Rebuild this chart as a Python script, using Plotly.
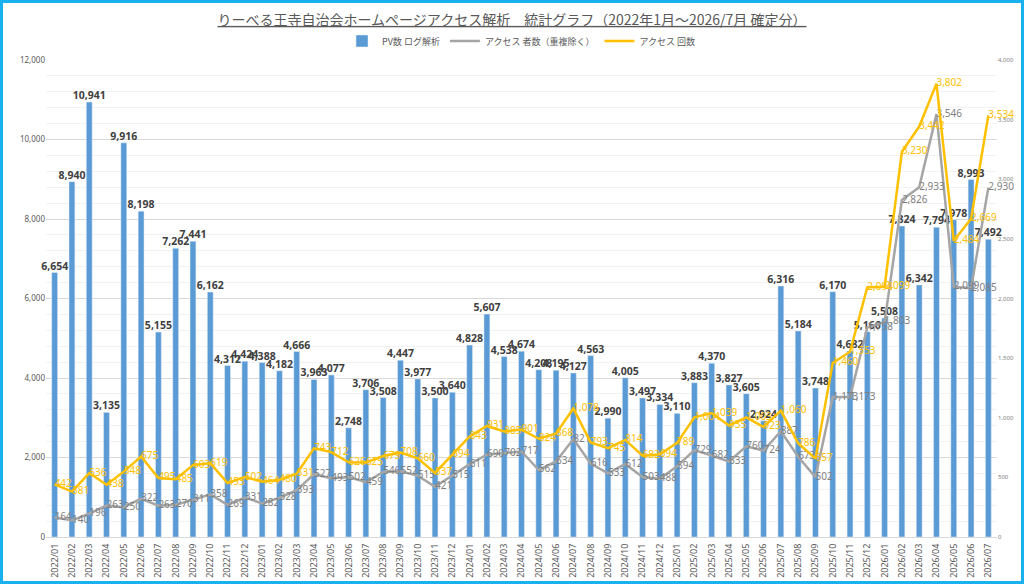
import plotly.graph_objects as go

months = [f"{y}/{m:02d}" for y in range(2022, 2027) for m in range(1, 13)][:55]

pv = [6654, 8940, 10941, 3135, 9916, 8198, 5155, 7262, 7441, 6162, 4312, 4424,
      4388, 4182, 4666, 3963, 4077, 2748, 3706, 3508, 4447, 3977, 3500, 3640,
      4828, 5607, 4538, 4674, 4208, 4195, 4127, 4563, 2990, 4005, 3497, 3334,
      3110, 3883, 4370, 3827, 3605, 2924, 6316, 5184, 3748, 6170, 4682, 5166,
      5508, 7824, 6342, 7794, 7978, 8993, 7492]

visitors = [164, 140, 196, 263, 250, 322, 263, 270, 311, 358, 269, 331,
            282, 328, 393, 527, 493, 502, 459, 546, 552, 515, 421, 515,
            611, 690, 702, 717, 562, 634, 821, 616, 533, 612, 503, 488,
            594, 729, 682, 633, 760, 724, 887, 673, 502, 1173, 1173, 1758,
            1803, 2826, 2933, 3546, 2099, 2085, 2930]

visits = [442, 381, 536, 438, 548, 675, 495, 485, 603, 619, 453, 502,
          464, 480, 531, 743, 712, 626, 625, 679, 708, 660, 537, 694,
          843, 931, 885, 901, 824, 868, 1078, 793, 745, 814, 682, 694,
          789, 1004, 1039, 935, 1003, 923, 1060, 786, 657, 1460, 1553, 2094,
          2099, 3230, 3442, 3802, 2484, 2669, 3534]

title_text = "りーべる王寺自治会ホームページアクセス解析　統計グラフ（2022年1月～2026/7月 確定分）"
names = ["PV数 ログ解析", "アクセス 者数（重複除く）", "アクセス 回数"]

W, H = 1024, 584
ML, MR, MT, MB = 46, 27, 60, 47
PW, PH = W - ML - MR, H - MT - MB

FONT = "Noto Sans CJK JP"

fig = go.Figure()
fig.add_trace(go.Bar(
    x=months, y=pv, name=names[0], marker_color="#5b9bd5",
    texttemplate="%{y:,}", textposition="outside", constraintext="none",
    textfont=dict(family="Noto Sans", size=10.5, color="#404040", weight="bold"),
    cliponaxis=False, yaxis="y"))
fig.add_trace(go.Scatter(
    x=months, y=visitors, name=names[1], mode="lines+text",
    line=dict(color="#a5a5a5", width=2.5),
    texttemplate="%{y:,}", textposition="middle right",
    textfont=dict(family="Noto Sans", size=10, color="#7f7f7f"),
    cliponaxis=False, yaxis="y2"))
fig.add_trace(go.Scatter(
    x=months, y=visits, name=names[2], mode="lines+text",
    line=dict(color="#ffc000", width=2.5),
    texttemplate="%{y:,}", textposition="middle right",
    textfont=dict(family="Noto Sans", size=10, color="#ffc000"),
    cliponaxis=False, yaxis="y2"))

fig.update_layout(
    width=W, height=H,
    margin=dict(l=ML, r=MR, t=MT, b=MB, autoexpand=False),
    paper_bgcolor="white", plot_bgcolor="white",
    font=dict(family=FONT, color="#595959"),
    bargap=0.66,
    title=dict(text="<u>" + title_text + "</u>", x=0.5, xanchor="center",
               y=1 - 20 / H, yanchor="middle",
               font=dict(family=FONT, size=14, color="#595959")),
    legend=dict(orientation="h", x=0.5, xanchor="center",
                y=1 + 19 / PH, yanchor="middle", itemwidth=30,
                font=dict(family=FONT, size=9, color="#595959"),
                bgcolor="rgba(0,0,0,0)"),
    showlegend=True,
    xaxis=dict(type="category", range=[-0.5, len(months) - 0.5],
               tickangle=-90, automargin=False,
               tickfont=dict(family="Noto Sans", size=9, color="#595959"),
               showgrid=False, showline=True, linecolor="#d9d9d9",
               ticks="", ticklabelstandoff=2),
    yaxis=dict(range=[0, 12000], dtick=2000, tickformat=",", automargin=False,
               tickfont=dict(family="Noto Sans", size=8, color="#595959"),
               showgrid=True, gridcolor="#d9d9d9", gridwidth=1,
               minor=dict(dtick=400, showgrid=True, gridcolor="#f2f2f2"),
               zeroline=False, showline=False, ticks=""),
    yaxis2=dict(range=[0, 4000], dtick=500, tickformat=",", automargin=False,
                overlaying="y", side="right",
                tickfont=dict(family="Noto Sans", size=6, color="#808080"),
                showgrid=False, zeroline=False, showline=False, ticks=""),
    shapes=[dict(type="rect", xref="paper", yref="paper",
                 x0=-(ML - 1.5) / PW, x1=1 + (MR - 1.5) / PW,
                 y0=-(MB - 1.5) / PH, y1=1 + (MT - 1.5) / PH,
                 line=dict(color="#1ab2ee", width=3), layer="above")],
)

fig.write_html(
    "out.html",
    config={"displayModeBar": False},
    post_script="document.body.style.margin='0';document.body.style.overflow='hidden';",
)
